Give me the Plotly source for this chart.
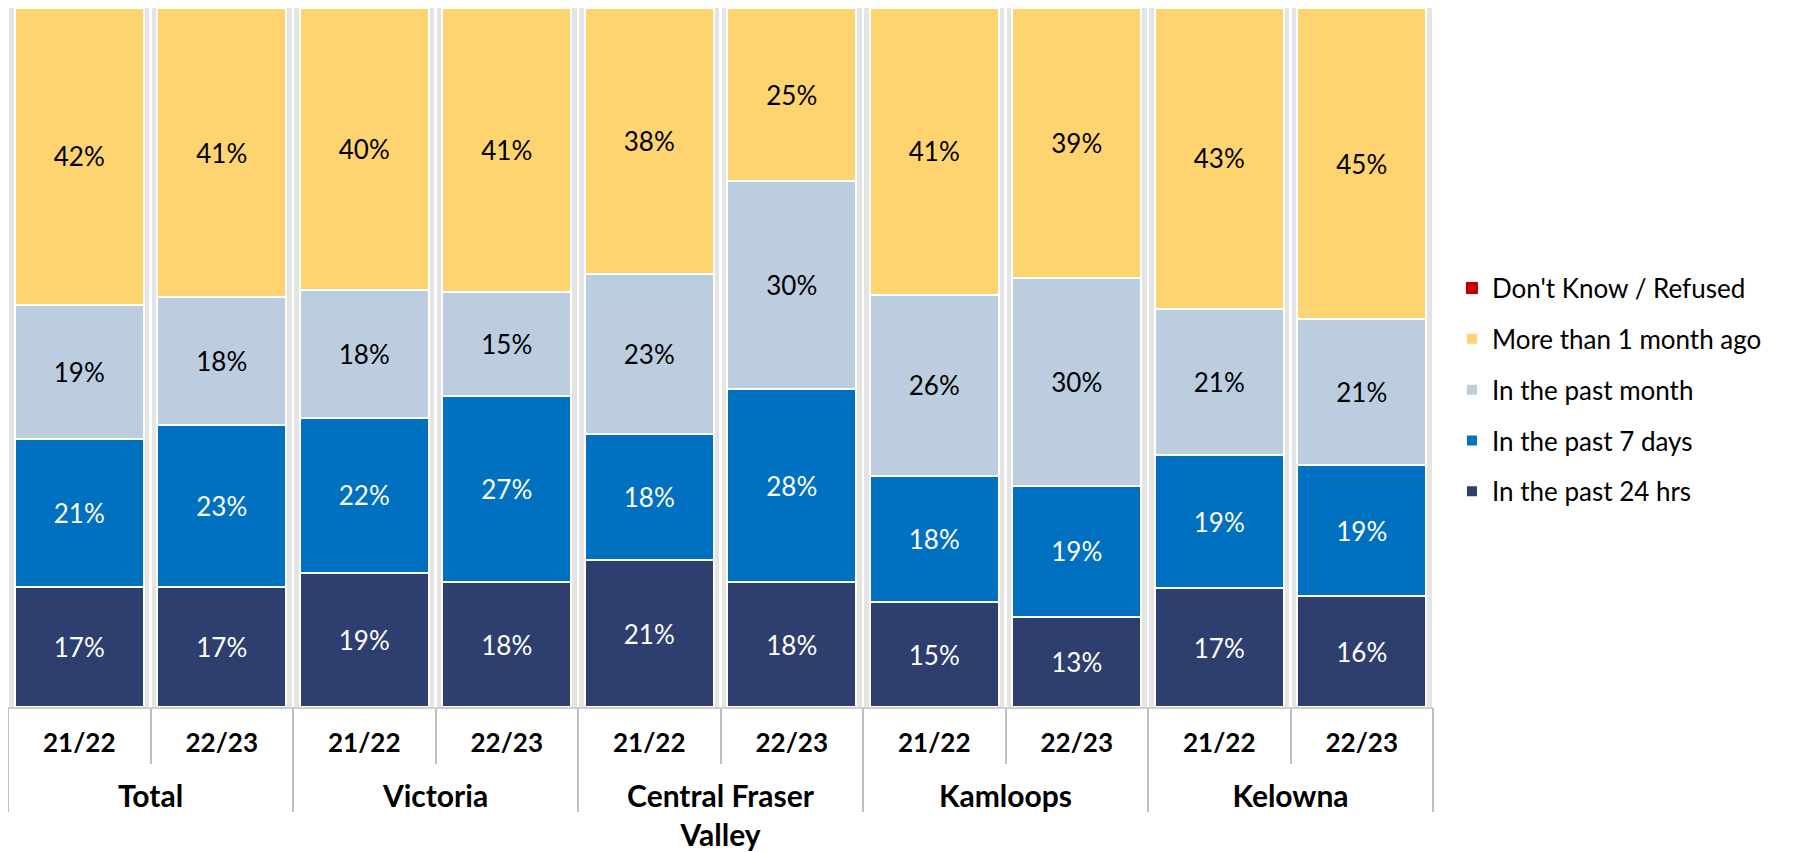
import plotly.graph_objects as go

regions = ["Total", "Victoria", "Central Fraser Valley", "Kamloops", "Kelowna"]
periods = ["21/22", "22/23"]

past_24hrs = [17, 17, 19, 18, 21, 18, 15, 13, 17, 16]
past_7days = [21, 23, 22, 27, 18, 28, 18, 19, 19, 19]
past_month = [19, 18, 18, 15, 23, 30, 26, 30, 21, 21]
more_month = [42, 41, 40, 41, 38, 25, 41, 39, 43, 45]
dont_know = [0, 0, 0, 0, 0, 0, 0, 0, 0, 0]

# category keys (one per bar) and their labels
cats = [f"{r} {p}" for r in regions for p in periods]
inner_labels = [p for _ in regions for p in periods]
n_per = len(periods)
group_centers = [i * n_per + (n_per - 1) / 2 for i in range(len(regions))]
group_bounds = [i * n_per - 0.5 for i in range(len(regions) + 1)]
region_labels = [r.replace("Central Fraser ", "Central Fraser<br>") for r in regions]

FONT = "Lato, Calibri, sans-serif"
GRID = "#BFBFBF"

# stacking order bottom -> top; legend rank shows the top series first
series = [
    ("In the past 24 hrs", past_24hrs, "#2E3F6F", "white", 5),
    ("In the past 7 days", past_7days, "#0070C0", "white", 4),
    ("In the past month", past_month, "#BCCDDF", "black", 3),
    ("More than 1 month ago", more_month, "#FED470", "black", 2),
    ("Don't Know / Refused", dont_know, "#C00000", "black", 1),
]

fig = go.Figure()

# soft shadow behind each bar (drawn on the base y axis, below the data)
fig.add_trace(go.Bar(
    x=cats, y=[100] * len(cats), width=0.98,
    marker=dict(color="#E4E4E4", line=dict(width=0)),
    showlegend=False, hoverinfo="skip", xaxis="x", yaxis="y",
))

for name, vals, color, tcolor, rank in series:
    is_zero = all(v == 0 for v in vals)
    fig.add_trace(go.Bar(
        x=cats, y=vals, name=name,
        marker=dict(color=color, line=dict(color="white", width=0 if is_zero else 2)),
        text=["" if v == 0 else f"{v}%" for v in vals],
        textposition="inside", insidetextanchor="middle", textangle=0,
        constraintext="none",
        textfont=dict(family=FONT, size=26, color=tcolor),
        legendgroup=name, legendrank=rank, xaxis="x", yaxis="y2",
    ))

# empty trace so the group-label axis is drawn
fig.add_trace(go.Scatter(x=[], y=[], xaxis="x2", yaxis="y", showlegend=False, hoverinfo="skip"))

fig.update_layout(
    width=1785, height=844,
    barmode="stack", barnorm="percent", bargap=0.096,
    plot_bgcolor="white", paper_bgcolor="white",
    margin=dict(l=0, r=360, t=0, b=145, autoexpand=False),
    font=dict(family=FONT, color="black"),
    showlegend=True,
    legend=dict(
        x=1.0133, xanchor="left", y=0.4533, yanchor="middle",
        traceorder="grouped", tracegroupgap=14,
        font=dict(family=FONT, size=26, color="black"),
        bgcolor="rgba(0,0,0,0)",
    ),
    xaxis=dict(
        type="category", range=[-0.5, len(cats) - 0.5],
        tickmode="array", tickvals=cats, ticktext=inner_labels,
        showline=True, linecolor="#D0D0D0", linewidth=2,
        tickson="boundaries", ticks="outside", ticklen=55,
        tickcolor=GRID, tickwidth=1.5, ticklabelstandoff=12,
        tickfont=dict(family=FONT, size=26, color="black", weight="bold"),
        showgrid=False, zeroline=False, automargin=False,
    ),
    xaxis2=dict(
        overlaying="x", anchor="y", side="bottom", type="linear",
        range=[-0.5, len(cats) - 0.5],
        tickmode="array", tickvals=group_centers, ticktext=region_labels,
        ticks="", showline=False, showgrid=False, zeroline=False,
        ticklabelstandoff=69, automargin=False,
        tickfont=dict(family=FONT, size=30, color="black", weight="bold"),
        minor=dict(tickmode="array", tickvals=group_bounds, ticks="outside",
                   ticklen=104, tickcolor=GRID, tickwidth=1.5, showgrid=False),
    ),
    yaxis=dict(visible=False, range=[0, 100], showgrid=False, fixedrange=True),
    yaxis2=dict(visible=False, range=[0, 100], showgrid=False, overlaying="y"),
)

fig.write_html("out.html")
